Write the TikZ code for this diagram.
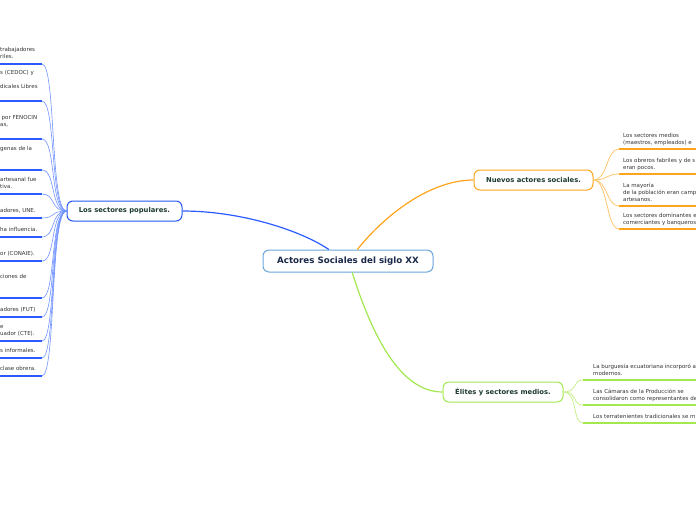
\documentclass[tikz,border=0pt]{standalone}
\usepackage{fontspec}
\setmainfont{DejaVu Sans}
\definecolor{ctrborder}{HTML}{6AA6DC}
\definecolor{ctrtext}{HTML}{1B2A4A}
\definecolor{titlecol}{HTML}{1D3B2F}
\definecolor{leaftext}{HTML}{333333}
\definecolor{popb}{HTML}{2458F0}
\definecolor{bcol}{HTML}{2B5BFF}
\definecolor{bcon}{HTML}{7093FF}
\definecolor{orb}{HTML}{FFA41C}
\definecolor{ocon}{HTML}{FFC76E}
\definecolor{grb}{HTML}{A3E84F}
\definecolor{gcon}{HTML}{C8F08F}
\begin{document}
\begin{tikzpicture}[x=1pt,y=-1pt,
  title/.style={draw, rounded corners=6pt, fill=white, line width=1pt,
    font=\bfseries\fontsize{6.8}{8}\selectfont, text=titlecol, inner sep=0pt, minimum height=20pt},
  lt/.style={inner sep=0pt, align=left, anchor=south west, text depth=0pt,
    font=\fontsize{5.5}{7}\selectfont, text=leaftext},
  bul/.style={draw=bcol, line width=1.8pt},
  bconn/.style={draw=bcon, line width=0.6pt, line cap=round},
  oul/.style={draw=orb, line width=1.8pt},
  oconn/.style={draw=ocon, line width=0.8pt, line cap=round},
  gul/.style={draw=grb, line width=1.8pt},
  gconn/.style={draw=gcon, line width=0.8pt, line cap=round},
  mainline/.style={line width=1.2pt}]
\useasboundingbox (0,0) rectangle (696,520);
\clip (0,0) rectangle (696,520);

\node[title, draw=ctrborder, minimum width=170pt, minimum height=22pt,
  font=\bfseries\fontsize{8.7}{10}\selectfont, text=ctrtext] (c) at (348,261) {Actores Sociales del siglo XX};
\node[title, draw=popb, minimum width=115pt] (pop) at (124.5,211) {Los sectores populares.};
\node[title, draw=orb, minimum width=119pt] (nu) at (533.5,180) {Nuevos actores sociales.};
\node[title, draw=grb, minimum width=120pt] (el) at (503,392) {Élites y sectores medios.};

\draw[mainline, draw=bcol] (c.149) .. controls (300,230) and (240,211) .. (pop.east);
\draw[mainline, draw=orb] (c.51) .. controls (385,215) and (430,180) .. (nu.west);
\draw[mainline, draw=grb] (c.-70) .. controls (372,335) and (400,392) .. (el.west);

\newcommand\lleaf[3]{%
  \node[lt] (#1) at (0,#2-5.5) {#3};
  \coordinate (#1e) at (42,#2);
  \draw[bul] (-2,#2) -- (#1e);
  \draw[bconn] (pop.west) .. controls (50,211) and (56,#2) .. (#1e);}
\newcommand\oleaf[3]{%
  \node[lt] (#1) at (623,#2-4.5) {#3};
  \coordinate (#1s) at (619,#2);
  \draw[oul] (#1s) -- (700,#2);
  \draw[oconn] (nu.east) .. controls (608,180) and (606,#2) .. (#1s);}
\newcommand\gleaf[3]{%
  \node[lt] (#1) at (593,#2-4.5) {#3};
  \coordinate (#1s) at (583,#2);
  \draw[gul] (#1s) -- (700,#2);
  \draw[gconn] (el.east) .. controls (578,392) and (572,#2) .. (#1s);}

\lleaf{la}{64}{trabajadores\\riles.}
\lleaf{lb}{101}{s (CEDOC) y\\\mbox{}\\dicales Libres\\\mbox{}}
\lleaf{lc}{139}{\hspace*{1.5pt}por FENOCIN\\as,\\\mbox{}}
\lleaf{ld}{170}{genas de la\\\mbox{}\\\mbox{}}
\lleaf{le}{194}{artesanal fue\\tiva.}
\lleaf{lf}{218}{adores, UNE.}
\lleaf{lg}{237}{ha influencia.}
\lleaf{lh}{261}{or (CONAIE).}
\lleaf{li}{298}{ciones de\\\mbox{}\\\mbox{}}
\lleaf{lj}{317}{adores (FUT)}
\lleaf{lk}{341}{e\\uador (CTE).}
\lleaf{ll}{358}{s informales.}
\lleaf{lm}{376}{clase obrera.}

\oleaf{oa}{149}{Los sectores medios\\(maestros, empleados) e}
\oleaf{ob}{174}{Los obreros fabriles y de s\\eran pocos.}
\oleaf{oc}{206}{La mayoría\\de la población eran camp\\artesanos.}
\oleaf{od}{229}{Los sectores dominantes e\\comerciantes y banqueros}

\gleaf{ga}{380}{La burguesía ecuatoriana incorporó a\\modernos.}
\gleaf{gb}{405}{Las Cámaras de la Producción se\\consolidaron como representantes de}
\gleaf{gc}{423}{Los terratenientes tradicionales se m}
\end{tikzpicture}
\end{document}
